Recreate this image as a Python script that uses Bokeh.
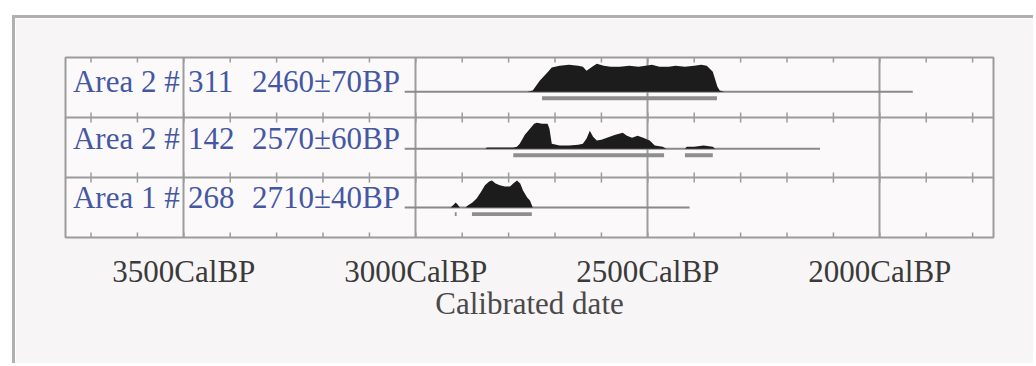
import numpy as np
from bokeh.plotting import figure
from bokeh.models import Range1d, FixedTicker, ColumnDataSource
from bokeh.embed import file_html
from bokeh.resources import INLINE
from bokeh.core.properties import value

# ---------------- data ----------------
# rows listed bottom -> top
row_area = ["Area 1 #", "Area 2 #", "Area 2 #"]
row_id = ["268", "142", "311"]
row_bp = ["2710±40BP", "2570±60BP", "2460±70BP"]

tick_years = [3500, 3000, 2500, 2000]
tick_labels = ["3500CalBP", "3000CalBP", "2500CalBP", "2000CalBP"]
minor_years = list(range(3700, 1700, -100))

# calibrated probability (relative) — sample #268, 2710±40BP
years_268 = [2925, 2918, 2914, 2910, 2905, 2893, 2888, 2878, 2869, 2860, 2851, 2842,
             2836, 2828, 2819, 2808, 2797, 2790, 2782, 2775, 2769, 2760, 2754, 2748]
prob_268 = [0, .11, .18, .11, 0, 0, .07, .18, .32, .54, .79, .93,
            .96, .86, .79, .75, .75, .86, .96, .86, .61, .36, .25, 0]

# sample #142, 2570±60BP
years_142 = [2850, 2847, 2790, 2782, 2776, 2765, 2754, 2745, 2739, 2728, 2716, 2712,
             2707, 2690, 2670, 2650, 2640, 2632, 2625, 2618, 2610, 2600, 2588, 2570,
             2554, 2545, 2534, 2522, 2510, 2496, 2485, 2468, 2460, 2440, 2420, 2416,
             2400, 2380, 2360, 2355]
prob_142 = [0, .04, .04, .07, .18, .5, .71, .89, .93, .89, .89, .71,
            .18, .11, .11, .14, .18, .36, .64, .43, .29, .32, .39, .5,
            .57, .46, .39, .46, .39, .29, .11, .07, 0, 0, 0, .07,
            .07, .11, .07, 0]

# sample #311, 2460±70BP
years_311 = [2760, 2748, 2733, 2715, 2707, 2690, 2670, 2650, 2640, 2632, 2620, 2610,
             2595, 2580, 2560, 2540, 2520, 2505, 2491, 2475, 2455, 2440, 2420, 2400,
             2385, 2373, 2360, 2350, 2345, 2335]
prob_311 = [0, .04, .39, .71, .86, .93, .96, .93, .89, .75, .89, 1.0,
            .93, .89, .89, .93, .89, .93, .96, .89, .89, .93, .89, .93,
            .96, .93, .71, .18, .04, 0]

# probability ranges (cal BP, older -> younger)
ranges_268 = [(2916, 2912), (2879, 2750)]
ranges_142 = [(2790, 2465), (2420, 2360)]
ranges_311 = [(2728, 2351)]

# extent of the calibration line for each row
line_start = [3024, 3024, 3024]
line_end = [2410, 2129, 1929]

# ---------------- figure ----------------
BG = "#f8f5f6"
GRID = "#9c9c9c"
W, H = 1021, 348

p = figure(width=W, height=H, output_backend="svg", toolbar_location=None,
           x_range=Range1d(3755, 1755), y_range=Range1d(0, 3),
           min_border_left=50, min_border_right=43, min_border_top=39,
           min_border_bottom=129)
p.styles = {"margin-left": "12px", "margin-top": "15px",
            "border-left": "3px solid #b0b0b0", "border-top": "3px solid #b0b0b0"}
p.background_fill_color = "#fbf9fa"
p.border_fill_color = BG
p.outline_line_color = GRID
p.outline_line_width = 2

p.yaxis.visible = False
xa = p.xaxis[0]
xa.ticker = FixedTicker(ticks=tick_years)
xa.major_label_overrides = {t: l for t, l in zip(tick_years, tick_labels)}
xa.axis_line_color = None
xa.major_tick_line_color = None
xa.minor_tick_line_color = None
xa.major_tick_out = 0
xa.major_label_standoff = 16
xa.major_label_text_font = "Liberation Serif"
xa.major_label_text_font_size = "31px"
xa.major_label_text_color = "#3a3a3a"
xa.axis_label = "Calibrated date"
xa.axis_label_text_font = "Liberation Serif"
xa.axis_label_text_font_size = "31px"
xa.axis_label_text_font_style = "normal"
xa.axis_label_text_color = "#4a4a4a"
xa.axis_label_standoff = -6

p.xgrid.ticker = FixedTicker(ticks=tick_years)
p.ygrid.ticker = FixedTicker(ticks=[1, 2])
for g in (p.xgrid[0], p.ygrid[0]):
    g.grid_line_color = GRID
    g.grid_line_width = 2

# small ticks every 100 years on each horizontal rule
TL = 0.085
tx, ty0, ty1 = [], [], []
for yv in [0, 1, 2, 3]:
    for xv in minor_years:
        tx.append(xv)
        ty0.append(max(yv - TL, 0))
        ty1.append(min(yv + TL, 3))
p.segment(x0=tx, y0=ty0, x1=tx, y1=ty1, line_color=GRID, line_width=1.5)

bases = [0.5, 1.48, 2.43]
SCALE = 0.467
BAR_OFF = 0.11
BAR_H = 0.065
TXT_OFF = 0.17

dists = [(years_268, prob_268, ranges_268),
         (years_142, prob_142, ranges_142),
         (years_311, prob_311, ranges_311)]

for i, (yrs, pr, rg) in enumerate(dists):
    b = bases[i]
    # calibration line
    p.line(x=[line_start[i], line_end[i]], y=[b, b], line_color="#8a8a8a", line_width=2)
    # probability ranges
    p.hbar(y=[b - BAR_OFF] * len(rg), left=[r[0] for r in rg], right=[r[1] for r in rg],
           height=BAR_H, fill_color="#8e8e8e", line_color=None)
    # distribution
    src = ColumnDataSource(dict(x=yrs, y1=[b] * len(yrs),
                                y2=[b + SCALE * v for v in pr]))
    p.varea(x="x", y1="y1", y2="y2", source=src, fill_color="#1c1c1c")
    # labels
    for xt, t in ((3739, row_area[i]), (3491, row_id[i]), (3353, row_bp[i])):
        p.text(x=[xt], y=[b + TXT_OFF], text=[t], text_font=value("Liberation Serif"),
               text_font_size="31px", text_color="#4557a3", text_baseline="middle")

open("out.html", "w").write(file_html(p, INLINE))
